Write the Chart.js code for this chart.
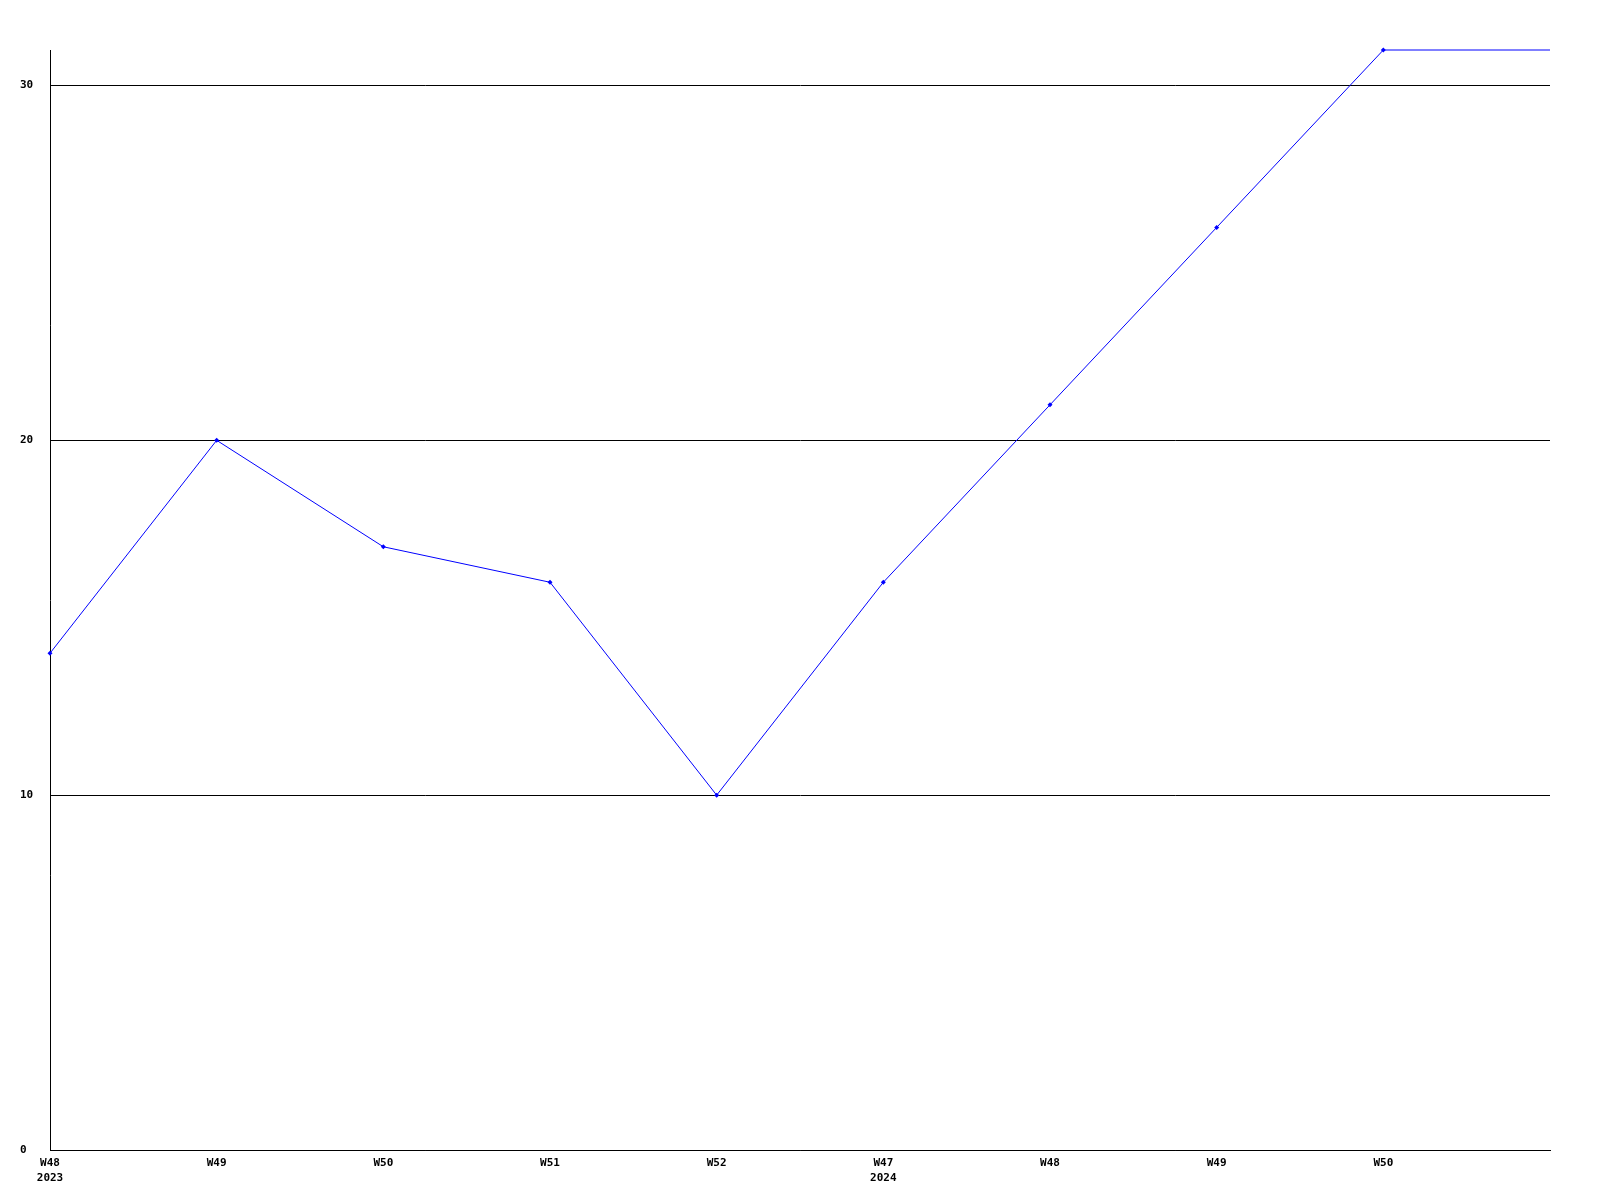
<!DOCTYPE html>
<html>
<head>
<meta charset="utf-8">
<script src="https://cdn.jsdelivr.net/npm/chart.js@4/dist/chart.umd.min.js"></script>
<style>
    html, body { margin: 0; padding: 0; background: #ffffff; }
    #wrap { width: 1600px; height: 1200px; }
</style>
</head>
<body>
<div id="wrap"><canvas id="weeklyChart"></canvas></div>
<script>
// week labels (second line = year, only at year start)
const weeks = ['W48', 'W49', 'W50', 'W51', 'W52', 'W47', 'W48', 'W49', 'W50', ''];
const years = ['2023', '', '', '', '', '2024', '', '', '', ''];
const counts = [14, 20, 17, 16, 10, 16, 21, 26, 31, 31];
const yTicks = [0, 10, 20, 30];
const yMax = 31;

const colors = {
    line: '#0000ff',
    axis: '#000000',
    text: '#000000'
};

const labels = weeks.map((w, i) => years[i] ? [w, years[i]] : w);

// last value only carries the line to the right edge, no marker there
const pointRadii = counts.map((_, i) => i === counts.length - 1 ? 0 : 2.5);

Chart.defaults.font.family = "'DejaVu Sans Mono', monospace";
Chart.defaults.font.size = 11;
Chart.defaults.font.weight = 'bold';
Chart.defaults.color = colors.text;

const ctx = document.getElementById('weeklyChart').getContext('2d');

new Chart(ctx, {
    type: 'line',
    data: {
        labels: labels,
        datasets: [{
            data: counts,
            borderColor: colors.line,
            backgroundColor: colors.line,
            borderWidth: 1,
            tension: 0,
            fill: false,
            clip: 5,
            pointStyle: 'rectRot',
            pointRadius: pointRadii,
            pointHoverRadius: 0,
            pointBorderWidth: 0
        }]
    },
    options: {
        responsive: true,
        maintainAspectRatio: false,
        animation: false,
        events: [],
        layout: { padding: { top: 50, right: 50, left: 20, bottom: 0 } },
        plugins: { legend: { display: false }, tooltip: { enabled: false } },
        scales: {
            x: {
                offset: false,
                grid: { display: false, drawTicks: false },
                border: { display: true, color: colors.axis, width: 1 },
                ticks: {
                    autoSkip: false,
                    maxRotation: 0,
                    minRotation: 0,
                    padding: 6,
                    font: { lineHeight: 1.35 }
                },
                afterFit: scale => { scale.height = 50; }
            },
            y: {
                min: 0,
                max: yMax,
                grid: { color: colors.axis, lineWidth: 1, drawTicks: false },
                border: { display: true, color: colors.axis, width: 1 },
                ticks: { padding: 17, crossAlign: 'far' },
                afterBuildTicks: scale => {
                    scale.ticks = yTicks.map(v => ({ value: v }));
                },
                afterFit: scale => { scale.width = 30; }
            }
        }
    }
});
</script>
</body>
</html>
